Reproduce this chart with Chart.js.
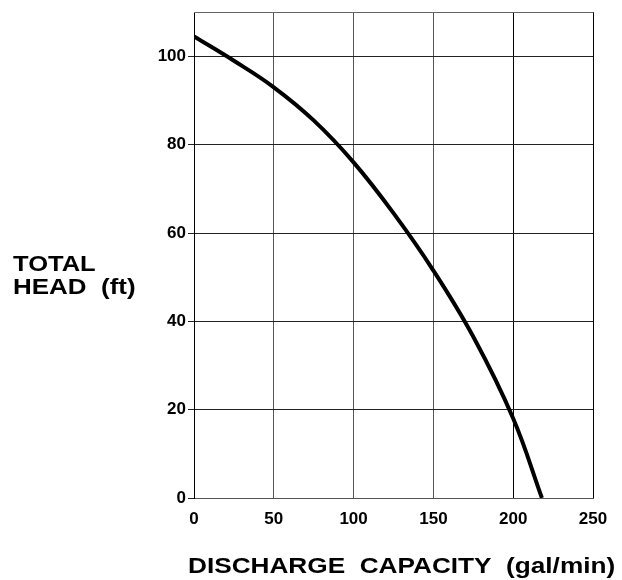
<!DOCTYPE html>
<html>
<head>
<meta charset="utf-8">
<script src="https://cdn.jsdelivr.net/npm/chart.js@4.4.1/dist/chart.umd.min.js"></script>
<style>
  html, body { margin: 0; padding: 0; background: #fff; }
  #wrap { width: 622px; height: 580px; position: relative; }
</style>
</head>
<body>
<div id="wrap"><canvas id="pumpCurve"></canvas></div>
<script>
// Pump performance curve
const discharge = [0, 25, 50, 75, 100, 125, 150, 175, 200, 218];
const totalHead = [104.5, 99, 93, 85.5, 76, 64.5, 51.5, 36.5, 18, 0];
const xTicks = [0, 50, 100, 150, 200, 250];
const yTicks = [0, 20, 40, 60, 80, 100];
const xTitle = 'DISCHARGE  CAPACITY  (gal/min)';
const yTitle = ['TOTAL', 'HEAD  (ft)'];

const FONT = '"Liberation Sans", Arial, Helvetica, sans-serif';

// the original lettering is a bit wider than Arial, so stretch it horizontally
function drawStretched(c, text, x, y, sx) {
  c.save();
  c.translate(x, y);
  c.scale(sx, 1);
  c.fillText(text, 0, 0);
  c.restore();
}

const axisTitles = {
  id: 'axisTitles',
  afterDraw(chart) {
    const c = chart.ctx;
    const a = chart.chartArea;
    c.save();
    // top border of the plot
    c.strokeStyle = '#666';
    c.lineWidth = 1;
    c.beginPath();
    c.moveTo(a.left, Math.round(a.top) + 0.5);
    c.lineTo(a.right, Math.round(a.top) + 0.5);
    c.stroke();

    c.fillStyle = '#000';
    c.font = 'bold 22px ' + FONT;
    c.textBaseline = 'alphabetic';
    c.textAlign = 'left';
    drawStretched(c, xTitle, a.left - 6, 573, 1.19);
    drawStretched(c, yTitle[0], 13, 271, 1.16);
    drawStretched(c, yTitle[1], 13, 294, 1.18);
    c.restore();
  }
};

const points = discharge.map((q, i) => ({ x: q, y: totalHead[i] }));

new Chart(document.getElementById('pumpCurve'), {
  type: 'line',
  data: {
    datasets: [{
      data: points,
      borderColor: '#000',
      borderWidth: 4,
      pointRadius: 0,
      fill: false,
      tension: 0.4
    }]
  },
  options: {
    responsive: true,
    maintainAspectRatio: false,
    animation: false,
    layout: { padding: { top: 12, right: 29, left: 0, bottom: 0 } },
    plugins: {
      legend: { display: false },
      tooltip: { enabled: false }
    },
    scales: {
      x: {
        type: 'linear',
        min: 0,
        max: 250,
        afterBuildTicks: s => { s.ticks = xTicks.map(v => ({ value: v })); },
        afterFit: s => { s.height = 82; },
        grid: {
          color: ctx => (ctx.tick && ctx.tick.value >= 200) ? '#000' : '#555',
          lineWidth: 1,
          drawTicks: false
        },
        border: { color: '#555', width: 1 },
        ticks: {
          color: '#000',
          padding: 11,
          maxRotation: 0,
          font: { family: FONT, size: 17, weight: 'bold' }
        }
      },
      y: {
        type: 'linear',
        min: 0,
        max: 110,
        afterBuildTicks: s => { s.ticks = yTicks.map(v => ({ value: v })); },
        afterFit: s => { s.width = 194; },
        grid: {
          color: '#222',
          lineWidth: 1,
          drawTicks: true,
          tickLength: 6
        },
        border: { color: '#000', width: 1 },
        ticks: {
          color: '#000',
          padding: 2,
          font: { family: FONT, size: 17, weight: 'bold' }
        }
      }
    }
  },
  plugins: [axisTitles]
});
</script>
</body>
</html>
